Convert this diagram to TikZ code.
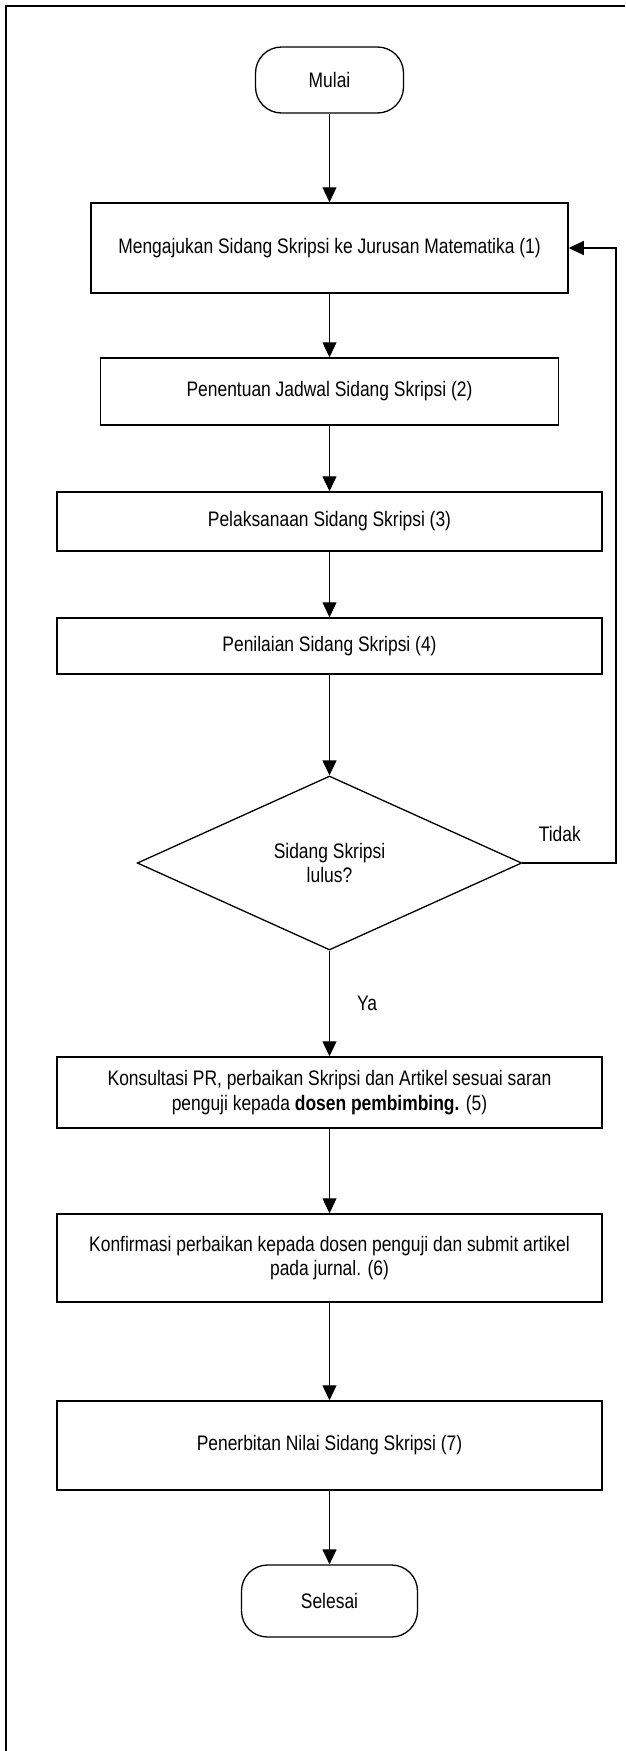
\documentclass[tikz,border=0pt]{standalone}
\usepackage{fontspec}
\setmainfont{Liberation Sans}[FakeStretch=0.83]
\usepackage{tikz}
\usetikzlibrary{shapes.geometric,arrows.meta}

\begin{document}
\begin{tikzpicture}[x=1pt, y=-1pt,
	font=\fontsize{21}{24.5}\selectfont,
	proses/.style={draw, line width=1.5pt, inner sep=0pt, align=center, minimum width=545pt},
	terminal/.style={draw, line width=1.3pt, rounded corners=26pt, inner sep=0pt},
	keputusan/.style={draw, diamond, line width=1.3pt, inner sep=0pt, align=center},
	alur/.style={-{Triangle[length=15pt,width=14pt]}, line width=1.3pt},
	ket/.style={inner sep=0pt}]
	\useasboundingbox (0,0) rectangle (625,1751);
	% bingkai
	\draw[line width=2pt] (6,1751) -- (6,6) -- (625,6);

	\node[terminal, minimum width=148pt, minimum height=66pt] (mulai) at (329.5,80) {Mulai};
	\node[proses, minimum width=477pt, minimum height=90pt] (aju) at (329.5,248) {Mengajukan Sidang Skripsi ke Jurusan Matematika (1)};
	\node[proses, minimum width=458pt, minimum height=67pt] (jadwal) at (329.5,391.5) {Penentuan Jadwal Sidang Skripsi (2)};
	\node[proses, minimum height=59pt] (laksana) at (329.5,521.5) {Pelaksanaan Sidang Skripsi (3)};
	\node[proses, minimum height=56pt] (nilai) at (329.5,646) {Penilaian Sidang Skripsi (4)};
	\node[keputusan, minimum width=384.5pt, minimum height=174pt] (lulus) at (329.5,863) {Sidang Skripsi\\lulus?};
	\node[proses, minimum height=71pt] (konsul) at (329.5,1092.5) {Konsultasi PR, perbaikan Skripsi dan Artikel sesuai saran\\penguji kepada \textbf{dosen pembimbing.} (5)};
	\node[proses, minimum height=88pt] (konfirm) at (329.5,1258) {Konfirmasi perbaikan kepada dosen penguji dan submit artikel\\pada jurnal. (6)};
	\node[proses, minimum height=89pt] (terbit) at (329.5,1445.5) {Penerbitan Nilai Sidang Skripsi (7)};
	\node[terminal, minimum width=176pt, minimum height=72pt] (selesai) at (329.5,1601) {Selesai};
	\coordinate (belok) at (616,863);

	\draw[alur] (mulai) -- (aju);
	\draw[alur] (aju) -- (jadwal);
	\draw[alur] (jadwal) -- (laksana);
	\draw[alur] (laksana) -- (nilai);
	\draw[alur] (nilai) -- (lulus);
	\draw[alur] (lulus) -- node[ket, right=27pt] {Ya} (konsul);
	\draw[alur] (lulus.east) -- node[ket, pos=0.4, above=21pt] {Tidak} (belok) |- (aju.east);
	\draw[alur] (konsul) -- (konfirm);
	\draw[alur] (konfirm) -- (terbit);
	\draw[alur] (terbit) -- (selesai);
\end{tikzpicture}
\end{document}
